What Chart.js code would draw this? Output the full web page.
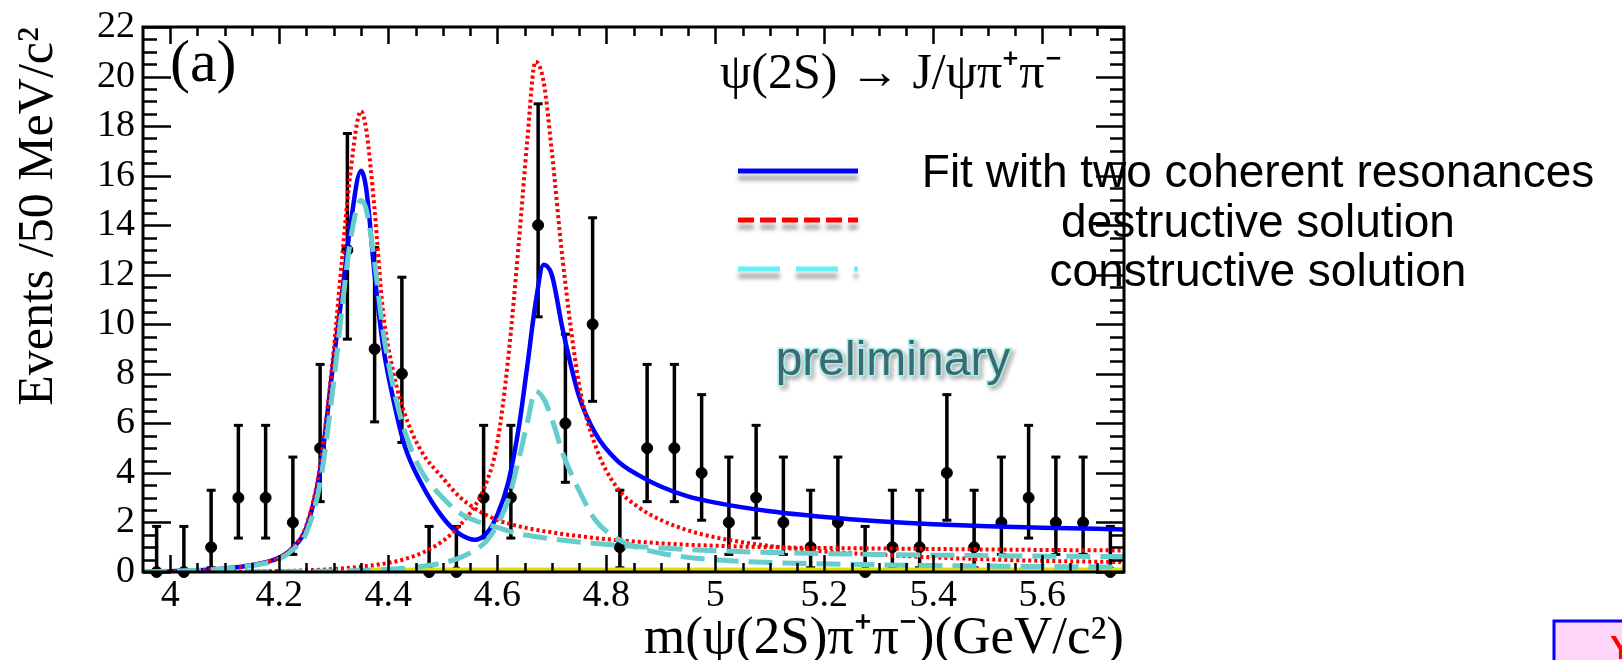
<!DOCTYPE html>
<html>
<head>
<meta charset="utf-8">
<script src="https://cdn.jsdelivr.net/npm/chart.js@4.4.1/dist/chart.umd.min.js"></script>
<style>
  html, body { margin: 0; padding: 0; background: #fff; }
  #wrap { width: 1622px; height: 660px; }
</style>
</head>
<body>
<div id="wrap"><canvas id="massPlot" width="1622" height="660"></canvas></div>
<script>
// 50 MeV bins: centres, counts, and where each error bar ends
var binCenters = [3.975, 4.025, 4.075, 4.125, 4.175, 4.225, 4.275, 4.325, 4.375, 4.425, 4.475, 4.525,
                  4.575, 4.625, 4.675, 4.725, 4.775, 4.825, 4.875, 4.925, 4.975, 5.025, 5.075, 5.125,
                  5.175, 5.225, 5.275, 5.325, 5.375, 5.425, 5.475, 5.525, 5.575, 5.625, 5.675, 5.725];
var events     = [0, 0, 1, 3, 3, 2, 5, 13, 9, 8, 0, 0,
                  3, 3, 14, 6, 10, 1, 5, 5, 4, 2, 3, 2,
                  1, 2, 0, 1, 1, 4, 1, 2, 3, 2, 2, 0];
var errTop     = [1.84, 1.84, 3.3, 5.92, 5.92, 4.64, 8.38, 17.7, 13.1, 11.9, 1.84, 1.84,
                  5.92, 5.92, 18.9, 9.6, 14.3, 3.3, 8.38, 8.38, 7.16, 4.64, 5.92, 4.64,
                  3.3, 4.64, 1.84, 3.3, 3.3, 7.16, 3.3, 4.64, 5.92, 4.64, 4.64, 1.84];
var errBottom  = [0, 0, 0.17, 1.37, 1.37, 0.71, 2.84, 9.4, 6.06, 5.23, 0, 0,
                  1.37, 1.37, 10.3, 3.62, 6.89, 0.17, 2.84, 2.84, 2.09, 0.71, 1.37, 0.71,
                  0.17, 0.71, 0, 0.17, 0.17, 2.09, 0.17, 0.71, 1.37, 0.71, 0.71, 0];

// fit curves
var curveMass  = [3.95, 4.0, 4.05, 4.1, 4.15, 4.2, 4.225, 4.25, 4.275, 4.3, 4.315, 4.33, 4.35, 4.36, 4.375,
                  4.39, 4.41, 4.43, 4.46, 4.5, 4.53, 4.56, 4.58, 4.6, 4.62, 4.64, 4.655, 4.67, 4.685, 4.7,
                  4.72, 4.75, 4.78, 4.82, 4.86, 4.9, 4.95, 5.0, 5.1, 5.2, 5.3, 5.4, 5.5, 5.6, 5.75];
var fitTotal   = [0, 0.03, 0.07, 0.14, 0.28, 0.58, 0.98, 1.8, 4.1, 8.6, 11.2, 13.9, 16.2, 15.4, 12.0,
                  9.2, 6.9, 5.1, 3.6, 2.2, 1.55, 1.3, 1.55, 2.3, 3.6, 5.9, 8.3, 10.8, 12.4, 12.0,
                  9.8, 7.1, 5.6, 4.5, 3.9, 3.45, 3.05, 2.8, 2.45, 2.22, 2.05, 1.93, 1.85, 1.79, 1.72];
var destr4360  = [0, 0.03, 0.07, 0.14, 0.28, 0.58, 1.0, 1.9, 4.3, 9.0, 12.6, 16.0, 18.6, 17.8, 14.6,
                  10.6, 8.0, 6.4, 4.9, 3.8, 3.05, 2.55, 2.3, 2.1, 1.96, 1.84, 1.77, 1.71, 1.65, 1.6,
                  1.53, 1.45, 1.37, 1.29, 1.22, 1.16, 1.1, 1.06, 1.0, 0.97, 0.95, 0.93, 0.91, 0.89, 0.87];
var destr4660  = [0, 0, 0.01, 0.01, 0.02, 0.04, 0.05, 0.07, 0.09, 0.12, 0.14, 0.17, 0.21, 0.24, 0.28,
                  0.33, 0.41, 0.52, 0.75, 1.25, 1.85, 2.7, 3.6, 5.2, 8.6, 13.4, 17.4, 20.6, 19.8, 17.0,
                  12.6, 7.6, 5.1, 3.4, 2.6, 2.1, 1.68, 1.4, 1.05, 0.83, 0.7, 0.59, 0.51, 0.45, 0.4];
var constr4360 = [0, 0.03, 0.07, 0.13, 0.26, 0.53, 0.9, 1.6, 3.6, 7.7, 10.6, 13.3, 15.0, 14.6, 12.5,
                  9.8, 7.4, 5.7, 4.1, 3.0, 2.4, 2.07, 1.93, 1.8, 1.66, 1.54, 1.48, 1.43, 1.38, 1.34,
                  1.28, 1.21, 1.15, 1.08, 1.02, 0.97, 0.91, 0.86, 0.79, 0.74, 0.71, 0.68, 0.66, 0.64, 0.62];
var constr4660 = [0, 0, 0, 0, 0.01, 0.01, 0.02, 0.02, 0.03, 0.04, 0.04, 0.05, 0.06, 0.07, 0.08,
                  0.1, 0.12, 0.15, 0.22, 0.37, 0.56, 0.9, 1.25, 1.9, 2.9, 4.6, 6.0, 7.3, 7.0, 6.2,
                  4.8, 3.3, 2.1, 1.35, 0.97, 0.76, 0.59, 0.49, 0.38, 0.33, 0.29, 0.26, 0.24, 0.22, 0.2];

// flat background band along the bottom
var bkgMass  = [4.34, 5.75];
var bkgLevel = [0.08, 0.08];

var xTicks = [4, 4.2, 4.4, 4.6, 4.8, 5, 5.2, 5.4, 5.6];
var yTicks = [0, 2, 4, 6, 8, 10, 12, 14, 16, 18, 20, 22];

var xTitle = 'm(\u03c8(2S)\u03c0\u207a\u03c0\u207b)(GeV/c\u00b2)';
var yTitle = 'Events /50 MeV/c\u00b2';
var panelTag = '(a)';
var decayLabel = '\u03c8(2S) \u2192 J/\u03c8\u03c0\u207a\u03c0\u207b';
var legendLabels = ['Fit with two coherent resonances', 'destructive solution', 'constructive solution'];
var stampText = 'preliminary';

function pts(xs, ys) {
  return xs.map(function (x, i) { return { x: x, y: ys[i] }; });
}

var errPts = [];
binCenters.forEach(function (x, i) {
  errPts.push({ x: x, y: errBottom[i] }, { x: x, y: errTop[i] }, { x: x, y: null });
});

var serif = '"Liberation Serif", "Times New Roman", serif';
var sans = '"Liberation Sans", Arial, sans-serif';

var curveStyle = {
  type: 'line', fill: false, pointRadius: 0, borderCapStyle: 'butt',
  cubicInterpolationMode: 'monotone'
};

// inward ROOT-style frame ticks
var frameTicks = {
  id: 'frameTicks',
  afterDatasetsDraw: function (chart) {
    var ctx = chart.ctx, a = chart.chartArea;
    var xs = chart.scales.x, ys = chart.scales.y;
    ctx.save();
    ctx.strokeStyle = '#000';
    ctx.lineWidth = 2.5;
    ctx.beginPath();
    for (var i = 0; i <= 44; i++) {
      var py = Math.round(ys.getPixelForValue(i * 0.5)) + 0.5;
      var len = (i % 4 === 0) ? 28 : 14;
      ctx.moveTo(a.left, py); ctx.lineTo(a.left + len, py);
      ctx.moveTo(a.right, py); ctx.lineTo(a.right - len, py);
    }
    for (var k = 1; k < 36; k++) {
      var px = Math.round(xs.getPixelForValue(3.95 + k * 0.05)) + 0.5;
      var l2 = ((k - 1) % 4 === 0) ? 17 : 9;
      ctx.moveTo(px, a.bottom); ctx.lineTo(px, a.bottom - l2);
      ctx.moveTo(px, a.top); ctx.lineTo(px, a.top + l2);
    }
    ctx.stroke();
    ctx.lineWidth = 3;
    ctx.strokeRect(a.left, a.top, a.right - a.left, a.bottom - a.top);
    ctx.restore();
  }
};

// legend block, labels and the slide leftovers
var annotations = {
  id: 'annotations',
  afterDraw: function (chart) {
    var ctx = chart.ctx;
    ctx.save();
    ctx.fillStyle = '#000';
    ctx.textBaseline = 'middle';
    ctx.textAlign = 'left';
    ctx.font = '60px ' + serif;
    ctx.fillText(panelTag, 170, 65);
    ctx.font = '50px ' + serif;
    ctx.fillText(decayLabel, 720, 75);

    var legendLines = [
      { y: 171, color: '#0000ff', dash: [] },
      { y: 220, color: '#ff0000', dash: [16, 6] },
      { y: 269, color: '#66f0f8', dash: [42, 16] }
    ];
    legendLines.forEach(function (l) {
      ctx.save();
      ctx.shadowColor = 'rgba(0,0,0,0.35)';
      ctx.shadowBlur = 4;
      ctx.shadowOffsetY = 7;
      ctx.strokeStyle = l.color;
      ctx.lineWidth = 5;
      ctx.setLineDash(l.dash);
      ctx.beginPath();
      ctx.moveTo(738, l.y); ctx.lineTo(858, l.y);
      ctx.stroke();
      ctx.restore();
    });
    ctx.font = '46px ' + sans;
    ctx.textAlign = 'center';
    ctx.fillText(legendLabels[0], 1258, 174);
    ctx.fillText(legendLabels[1], 1258, 224);
    ctx.fillText(legendLabels[2], 1258, 273);

    ctx.font = '48px ' + sans;
    ctx.save();
    ctx.shadowColor = 'rgba(0,0,0,0.35)';
    ctx.shadowBlur = 4;
    ctx.shadowOffsetX = 3;
    ctx.shadowOffsetY = 3;
    ctx.lineWidth = 3;
    ctx.strokeStyle = '#a8f0f0';
    ctx.strokeText(stampText, 893, 362);
    ctx.restore();
    ctx.fillStyle = '#3d6a70';
    ctx.fillText(stampText, 893, 362);

    ctx.fillStyle = '#fdd5f8';
    ctx.fillRect(1554, 621, 70, 42);
    ctx.strokeStyle = '#0000ff';
    ctx.lineWidth = 3;
    ctx.strokeRect(1554, 621, 70, 42);
    ctx.fillStyle = '#ff0000';
    ctx.font = 'bold 34px ' + sans;
    ctx.textAlign = 'left';
    ctx.fillText('Y', 1610, 650);
    ctx.restore();
  }
};

new Chart(document.getElementById('massPlot'), {
  data: {
    datasets: [
      Object.assign({}, curveStyle, {
        label: 'constr4360', data: pts(curveMass, constr4360), order: 1,
        borderColor: '#66cccc', borderWidth: 5, borderDash: [24, 10]
      }),
      Object.assign({}, curveStyle, {
        label: 'constr4660', data: pts(curveMass, constr4660), order: 1,
        borderColor: '#66cccc', borderWidth: 5, borderDash: [24, 10]
      }),
      Object.assign({}, curveStyle, {
        label: 'destr4360', data: pts(curveMass, destr4360), order: 2,
        borderColor: '#ff0000', borderWidth: 4, borderDash: [3, 3]
      }),
      Object.assign({}, curveStyle, {
        label: 'destr4660', data: pts(curveMass, destr4660), order: 2,
        borderColor: '#ff0000', borderWidth: 4, borderDash: [3, 3]
      }),
      Object.assign({}, curveStyle, {
        label: 'fit', data: pts(curveMass, fitTotal), order: 3,
        borderColor: '#0000ff', borderWidth: 4.5
      }),
      {
        type: 'line', label: 'background', data: pts(bkgMass, bkgLevel), order: 4,
        borderColor: '#e6e000', borderWidth: 5, pointRadius: 0, fill: false
      },
      {
        type: 'line', label: 'data', data: pts(binCenters, events), order: 5,
        showLine: false, pointRadius: 5.5, pointHoverRadius: 5.5,
        pointBackgroundColor: '#000', pointBorderColor: '#000', clip: false
      },
      {
        type: 'line', label: 'errors', data: errPts, order: 6,
        borderColor: '#000', borderWidth: 3.5, spanGaps: false,
        pointStyle: 'line', pointRadius: 4.5, pointBorderWidth: 3,
        pointBorderColor: '#000', clip: false
      }
    ]
  },
  options: {
    responsive: false,
    animation: false,
    devicePixelRatio: 1,
    layout: { padding: { left: 0, top: 20, right: 498, bottom: 0 } },
    plugins: { legend: { display: false }, tooltip: { enabled: false } },
    scales: {
      x: {
        type: 'linear', min: 3.95, max: 5.75,
        afterFit: function (s) { s.height = 88; },
        afterBuildTicks: function (s) { s.ticks = xTicks.map(function (v) { return { value: v }; }); },
        grid: { display: false, drawTicks: false },
        border: { display: false },
        ticks: {
          autoSkip: false, maxRotation: 0, padding: 5, color: '#000',
          font: { family: serif, size: 38, lineHeight: 1 },
          callback: function (v) { return String(v); }
        },
        title: {
          display: true, text: xTitle, align: 'end', color: '#000',
          font: { family: serif, size: 53, lineHeight: 0.8 }, padding: { top: 0, bottom: 0 }
        }
      },
      y: {
        type: 'linear', min: 0, max: 22,
        afterFit: function (s) { s.width = 143; },
        afterBuildTicks: function (s) { s.ticks = yTicks.map(function (v) { return { value: v }; }); },
        grid: { display: false, drawTicks: false },
        border: { display: false },
        ticks: {
          padding: 8, color: '#000',
          font: { family: serif, size: 38, lineHeight: 1 }
        },
        title: {
          display: true, text: yTitle, align: 'end', color: '#000',
          font: { family: serif, size: 50, lineHeight: 1.1 }, padding: { top: 11, bottom: 0 }
        }
      }
    }
  },
  plugins: [frameTicks, annotations]
});
</script>
</body>
</html>
